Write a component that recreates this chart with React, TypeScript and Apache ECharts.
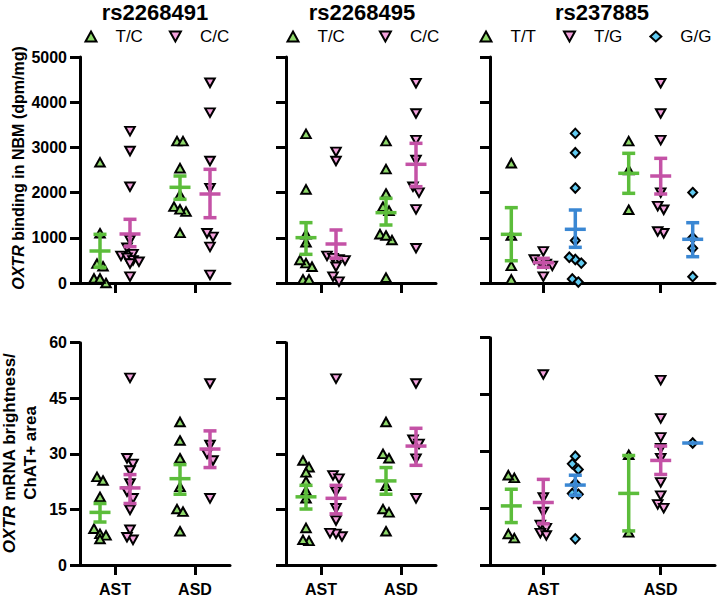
import React, { useEffect, useRef } from "react";
import * as echarts from "echarts";

// ---------- DATA ----------
const GROUPS = ["AST", "ASD"];
const GROUP_X = [1, 2];

// OXTR binding (dpm/mg), rs2268491
const b491_TC_AST = [2670, 1100, 430, 370, 0, 100, 100];
const b491_TC_ASD = [3140, 3140, 2540, 1950, 1690, 1580, 1630, 1110];
const b491_CC_AST = [3360, 2920, 2130, 950, 780, 640, 600, 560, 500, 470, 430, 140];
const b491_CC_ASD = [4430, 3770, 2700, 2100, 1020, 1100, 800, 180];
const b491_TC_stats = [[708, 347, 1077], [2117, 1851, 2367]]; // [mean, low, high]
const b491_CC_stats = [[1084, 803, 1409], [1969, 1445, 2515]];

// OXTR binding, rs2268495
const b495_TC_AST = [3300, 2070, 1080, 900, 440, 510, 360, 80, 80];
const b495_TC_ASD = [3140, 2520, 1980, 1690, 1600, 1080, 950, 1050, 120];
const b495_CC_AST = [2900, 2700, 600, 520, 550, 500, 360, 140, 30];
const b495_CC_ASD = [4420, 3750, 3160, 2720, 2130, 2000, 1630, 770];
const b495_TC_stats = [[1003, 634, 1335], [1556, 1283, 1873]];
const b495_CC_stats = [[863, 546, 1173], [2626, 2131, 3090]];

// OXTR binding, rs237885
const b885_TT_AST = [2650, 1050, 380, 80];
const b885_TT_ASD = [3140, 2500, 1620];
const b885_TG_AST = [700, 520, 450, 420, 380, 140];
const b885_TG_ASD = [4420, 3750, 3160, 2000, 1620, 1700, 1100, 1140];
const b885_GG_AST = [3310, 2880, 2100, 940, 520, 570, 440, 90, 20];
const b885_GG_ASD = [2000, 1000, 770, 140];
const b885_TT_stats = [[1077, 493, 1667], [2427, 1984, 2869]];
const b885_TG_stats = [[450, 347, 546], [2367, 1969, 2758]];
const b885_GG_stats = [[1188, 789, 1615], [967, 582, 1334]];

// OXTR mRNA brightness / ChAT+ area, rs2268491
const m491_TC_AST = [23.8, 22.8, 18.4, 9.8, 8.4, 8.0, 7.0];
const m491_TC_ASD = [38.6, 33.6, 28.8, 21.1, 15.1, 14.4, 9.1];
const m491_CC_AST = [50.5, 28.8, 27.3, 25.5, 22, 19.8, 18.0, 14.9, 9.5, 6.8, 7.5];
const m491_CC_ASD = [49, 32.4, 30.0, 28.2, 18];
const m491_TC_stats = [[14.2, 11.6, 16.6], [23.3, 19.1, 27.1]];
const m491_CC_stats = [[20.8, 16.6, 24.4], [31.3, 26.3, 36.2]];

// mRNA, rs2268495
const m495_TC_AST = [28.2, 26.4, 25.0, 22.6, 20, 18, 10.0, 6.5, 6.8];
const m495_TC_ASD = [38.6, 30.0, 28.8, 21.4, 15.1, 14.2, 9.1];
const m495_CC_AST = [50.3, 24.2, 23.3, 19.8, 15.3, 12, 7.7, 8.4, 8.6];
const m495_CC_ASD = [49, 33.8, 32.7, 28.7, 18];
const m495_TC_stats = [[18.4, 15.1, 21.5], [22.7, 19.1, 26.3]];
const m495_CC_stats = [[18.0, 13.8, 21.5], [32.1, 26.9, 36.9]];

// mRNA, rs237885
const m885_TT_AST = [23.0, 23.7, 7.1, 8.2];
const m885_TT_ASD = [29.1, 8.6];
const m885_TG_AST = [50.3, 17.8, 14, 10.6, 9.7, 8.4, 7.8];
const m885_TG_ASD = [48.8, 38.7, 33.7, 30.8, 28.2, 21.8, 18.3, 16.0, 15.0];
const m885_GG_AST = [28.7, 26.7, 25.2, 21.5, 18.9, 18.7, 6.9];
const m885_GG_ASD = [32.2];
const m885_TT_stats = [[15.6, 11.2, 20.0], [18.9, 9.0, 28.9]];
const m885_TG_stats = [[16.5, 10.9, 22.6], [27.6, 23.9, 31.4]];
const m885_GG_stats = [[21.1, 18.4, 23.7], [32.2, 32.2, 32.2]];

const TITLES = ["rs2268491", "rs2268495", "rs237885"];

// ---------- STYLE / LAYOUT ----------
const FONT = 'Arial, "Liberation Sans", Helvetica, sans-serif';
const COLORS: Record<string, { fill: string; line: string }> = {
  up: { fill: "#8fd96b", line: "#5cbd3b" },
  down: { fill: "#f4a2dd", line: "#c452a6" },
  diamond: { fill: "#60cbf2", line: "#3a87d3" },
};
const DOWN_ICON = "path://M0,0L20,0L10,18Z";

const GRIDS = [
  { left: 80, top: 57, width: 150, height: 226 },
  { left: 286, top: 57, width: 150, height: 226 },
  { left: 490, top: 57, width: 225, height: 226 },
  { left: 80, top: 342.7, width: 150, height: 224.6 },
  { left: 286, top: 342.7, width: 150, height: 224.6 },
  { left: 490, top: 337.7, width: 225, height: 229.6 },
];

type Geno = { name: string; kind: string; values: number[][]; stats: number[][] };
type Panel = { yMax: number; interval: number; showY: boolean; showX: boolean; genos: Geno[] };

const PANELS: Panel[] = [
  { yMax: 5000, interval: 1000, showY: true, showX: false, genos: [
    { name: "T/C", kind: "up", values: [b491_TC_AST, b491_TC_ASD], stats: b491_TC_stats },
    { name: "C/C", kind: "down", values: [b491_CC_AST, b491_CC_ASD], stats: b491_CC_stats },
  ] },
  { yMax: 5000, interval: 1000, showY: false, showX: false, genos: [
    { name: "T/C", kind: "up", values: [b495_TC_AST, b495_TC_ASD], stats: b495_TC_stats },
    { name: "C/C", kind: "down", values: [b495_CC_AST, b495_CC_ASD], stats: b495_CC_stats },
  ] },
  { yMax: 5000, interval: 1000, showY: false, showX: false, genos: [
    { name: "T/T", kind: "up", values: [b885_TT_AST, b885_TT_ASD], stats: b885_TT_stats },
    { name: "T/G", kind: "down", values: [b885_TG_AST, b885_TG_ASD], stats: b885_TG_stats },
    { name: "G/G", kind: "diamond", values: [b885_GG_AST, b885_GG_ASD], stats: b885_GG_stats },
  ] },
  { yMax: 60, interval: 15, showY: true, showX: true, genos: [
    { name: "T/C", kind: "up", values: [m491_TC_AST, m491_TC_ASD], stats: m491_TC_stats },
    { name: "C/C", kind: "down", values: [m491_CC_AST, m491_CC_ASD], stats: m491_CC_stats },
  ] },
  { yMax: 60, interval: 15, showY: false, showX: true, genos: [
    { name: "T/C", kind: "up", values: [m495_TC_AST, m495_TC_ASD], stats: m495_TC_stats },
    { name: "C/C", kind: "down", values: [m495_CC_AST, m495_CC_ASD], stats: m495_CC_stats },
  ] },
  { yMax: 60, interval: 15, showY: false, showX: true, genos: [
    { name: "T/T", kind: "up", values: [m885_TT_AST, m885_TT_ASD], stats: m885_TT_stats },
    { name: "T/G", kind: "down", values: [m885_TG_AST, m885_TG_ASD], stats: m885_TG_stats },
    { name: "G/G", kind: "diamond", values: [m885_GG_AST, m885_GG_ASD], stats: m885_GG_stats },
  ] },
];

const STEP_PX = 6;
const ROW_PX = 7;

function swarmOffsets(values: number[], pxPerUnit: number): number[] {
  const idx = values.map((_, i) => i).sort((a, b) => values[b] - values[a]);
  const out = new Array(values.length).fill(0);
  let row: number[] = [];
  const flush = () => {
    const k = row.length;
    row.forEach((id, j) => { out[id] = (j - (k - 1) / 2) * STEP_PX; });
    row = [];
  };
  for (const id of idx) {
    if (row.length && (values[row[0]] - values[id]) * pxPerUnit >= ROW_PX) flush();
    row.push(id);
  }
  flush();
  return out;
}

function buildOption() {
  const xAxis: any[] = [];
  const yAxis: any[] = [];
  const series: any[] = [];

  PANELS.forEach((p, pi) => {
    const g = GRIDS[pi];
    const three = p.genos.length === 3;
    const xMin = three ? 0.546 : 0.5625;
    const xMax = three ? 2.4625 : 2.4375;
    const xPx = g.width / (xMax - xMin);
    const yPx = g.height / p.yMax;
    const genoPx = three ? 32 : 15;

    xAxis.push({
      type: "value", gridIndex: pi, min: xMin, max: xMax,
      axisLine: { show: true, onZero: false, lineStyle: { color: "#000", width: 3 } },
      axisTick: { show: true, customValues: GROUP_X, length: 10, lineStyle: { color: "#000", width: 3 } },
      axisLabel: {
        show: p.showX, customValues: GROUP_X, margin: 16,
        formatter: (v: number) => GROUPS[GROUP_X.indexOf(v)] ?? "",
        fontSize: 16, fontWeight: "bold", color: "#000", fontFamily: FONT,
      },
      splitLine: { show: false },
    });
    yAxis.push({
      type: "value", gridIndex: pi, min: 0, max: p.yMax, interval: p.interval,
      axisLine: { show: true, onZero: false, lineStyle: { color: "#000", width: 3 } },
      axisTick: { show: true, length: 10, lineStyle: { color: "#000", width: 3 } },
      axisLabel: {
        show: p.showY, margin: 13, fontSize: 16, fontWeight: "bold", color: "#000", fontFamily: FONT,
        formatter: (v: number) => String(v),
      },
      splitLine: { show: false },
    });

    p.genos.forEach((ge, gi) => {
      const gOff = three ? ((gi - 1) * genoPx) / xPx : (gi === 0 ? -genoPx : genoPx) / xPx;
      const pts: number[][] = [];
      ge.values.forEach((vals, k) => {
        const jit = swarmOffsets(vals, yPx);
        vals.forEach((v, i) => pts.push([GROUP_X[k] + gOff + jit[i] / xPx, v]));
      });
      const col = COLORS[ge.kind];
      series.push({
        type: "scatter", name: ge.name, xAxisIndex: pi, yAxisIndex: pi, z: 2,
        symbol: ge.kind === "diamond" ? "diamond" : "triangle",
        symbolRotate: ge.kind === "down" ? 180 : 0,
        symbolSize: ge.kind === "diamond" ? [9, 9.5] : [9.5, 8.5],
        itemStyle: { color: col.fill, borderColor: "#000", borderWidth: 2, opacity: 1 },
        data: pts,
      });
      const statData = ge.stats.map((s, k) => [GROUP_X[k] + gOff, s[0], s[1], s[2]]);
      series.push({
        type: "custom", name: ge.name + " mean", xAxisIndex: pi, yAxisIndex: pi, z: 3,
        encode: { x: 0, y: [1, 2, 3] },
        data: statData,
        renderItem: (_params: any, api: any) => {
          const x = api.value(0), m = api.value(1), lo = api.value(2), hi = api.value(3);
          const pm = api.coord([x, m]);
          const pl = api.coord([x, lo]);
          const ph = api.coord([x, hi]);
          const st = { stroke: col.line, lineWidth: 3.5, fill: null };
          const children: any[] = [
            { type: "line", shape: { x1: pm[0] - 10.5, y1: pm[1], x2: pm[0] + 10.5, y2: pm[1] }, style: st },
          ];
          if (hi !== lo) {
            children.push(
              { type: "line", shape: { x1: pl[0], y1: pl[1], x2: ph[0], y2: ph[1] }, style: st },
              { type: "line", shape: { x1: pl[0] - 6.5, y1: pl[1], x2: pl[0] + 6.5, y2: pl[1] }, style: st },
              { type: "line", shape: { x1: ph[0] - 6.5, y1: ph[1], x2: ph[0] + 6.5, y2: ph[1] }, style: st },
            );
          }
          return { type: "group", children };
        },
      });
    });
  });

  const legendBase = {
    orient: "horizontal", top: 28, padding: 0, itemWidth: 11, itemHeight: 10,
    selectedMode: false,
    textStyle: { fontSize: 17, color: "#000", fontFamily: FONT, padding: [0, 0, 0, 14] },
  };

  const titleX = [155, 362, 602];
  const graphic: any[] = TITLES.map((t, i) => ({
    type: "text", x: titleX[i], y: 12,
    style: { text: t, fontSize: 22, fontWeight: "bold", fontFamily: FONT, fill: "#000", align: "center", verticalAlign: "middle" },
  }));
  graphic.push({
    type: "text", x: 18, y: 168, rotation: Math.PI / 2,
    style: {
      text: "{i|OXTR} binding in NBM (dpm/mg)", fontSize: 16, fontWeight: "bold", fontFamily: FONT, fill: "#000",
      align: "center", verticalAlign: "middle",
      rich: { i: { fontStyle: "italic", fontWeight: "bold", fontSize: 16, fontFamily: FONT, fill: "#000" } },
    },
  });
  graphic.push({
    type: "text", x: 20, y: 453, rotation: Math.PI / 2,
    style: {
      text: "{i|OXTR} mRNA brightness/\nChAT+ area", fontSize: 17, fontWeight: "bold", fontFamily: FONT, fill: "#000",
      align: "center", verticalAlign: "middle", lineHeight: 21,
      rich: { i: { fontStyle: "italic", fontWeight: "bold", fontSize: 17, fontFamily: FONT, fill: "#000", lineHeight: 21 } },
    },
  });

  return {
    animation: false,
    backgroundColor: "#fff",
    grid: GRIDS.map((g) => ({ ...g, containLabel: false })),
    xAxis, yAxis, series, graphic,
    legend: [
      { ...legendBase, left: 84.5, itemGap: 26, data: ["T/C", { name: "C/C", icon: DOWN_ICON }] },
      { ...legendBase, left: 286.5, itemGap: 34, data: ["T/C", { name: "C/C", icon: DOWN_ICON }] },
      { ...legendBase, left: 479.5, itemGap: 27, data: ["T/T", { name: "T/G", icon: DOWN_ICON }, "G/G"] },
    ],
  };
}

export default function App() {
  const ref = useRef<HTMLDivElement>(null);
  useEffect(() => {
    if (!ref.current) return;
    const chart = echarts.init(ref.current, null, { renderer: "svg" });
    chart.setOption(buildOption() as any);
    return () => chart.dispose();
  }, []);
  return (
    <div
      ref={ref}
      style={{ position: "fixed", left: 0, top: 0, width: 720, height: 597, background: "#fff" }}
    />
  );
}
